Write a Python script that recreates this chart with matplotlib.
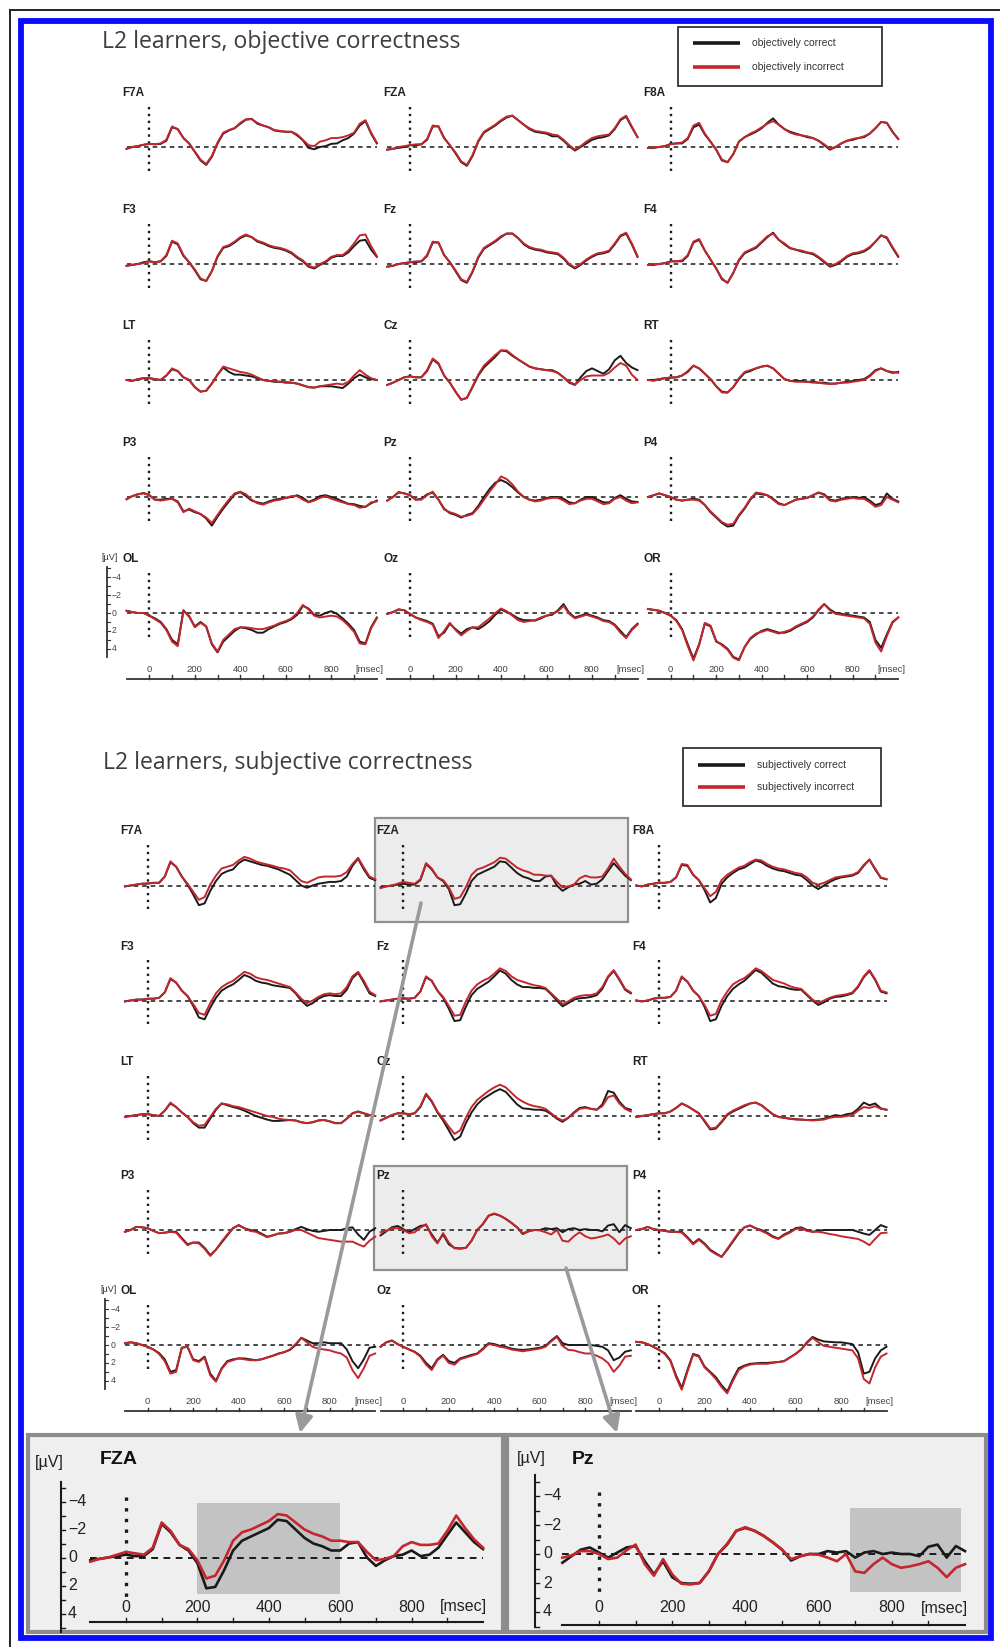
# ERP grid: L2 learners, objective vs subjective correctness (two 5x3 montages + two close-ups)

import numpy as np
import matplotlib.pyplot as plt
from matplotlib.patches import Rectangle, FancyArrowPatch

# time base in ms, one sample every 25 ms (45 samples per waveform)
t_ms = np.arange(-100, 1001, 25)

channels = [["F7A", "FZA", "F8A"],
            ["F3", "Fz", "F4"],
            ["LT", "Cz", "RT"],
            ["P3", "Pz", "P4"],
            ["OL", "Oz", "OR"]]

titles = ["L2 learners, objective correctness", "L2 learners, subjective correctness"]
legend_obj = ["objectively correct", "objectively incorrect"]
legend_subj = ["subjectively correct", "subjectively incorrect"]
time_ticks = [0, 200, 400, 600, 800]
uv_ticks = [-4, -2, 0, 2, 4]

# ---- objective correctness (µV, negative up) ----
obj_F7A_c = [0.2, 0.0, -0.1, -0.25, -0.35, -0.3, -0.35, -0.7, -2.2,
             -2.0, -1.0, -0.4, 0.55, 1.5, 2.0, 1.1, -0.4, -1.5,
             -1.85, -2.1, -2.6, -3.05, -3.15, -2.6, -2.4, -2.2, -1.85,
             -1.75, -1.7, -1.7, -1.3, -0.75, 0.1, 0.25, 0.0, -0.1,
             -0.35, -0.4, -0.75, -1.0, -1.5, -2.4, -2.9, -1.5, -0.4]
obj_F7A_i = [0.2, 0.0, -0.1, -0.25, -0.35, -0.3, -0.4, -0.8, -2.3,
             -2.0, -1.0, -0.4, 0.5, 1.4, 1.9, 1.0, -0.5, -1.6,
             -1.9, -2.1, -2.7, -3.1, -3.1, -2.7, -2.4, -2.2, -1.9,
             -1.8, -1.7, -1.7, -1.4, -0.8, -0.2, -0.1, -0.6, -0.75,
             -1.0, -1.0, -1.1, -1.3, -1.6, -2.6, -3.0, -1.6, -0.5]
obj_FZA_c = [0.3, 0.2, 0.1, 0.0, -0.2, -0.2, -0.3, -0.8, -2.3,
             -2.3, -1.0, -0.2, 0.7, 1.7, 2.1, 1.0, -0.6, -1.6,
             -2.0, -2.4, -2.9, -3.3, -3.5, -3.0, -2.5, -2.0, -1.7,
             -1.6, -1.5, -1.2, -1.2, -0.7, -0.1, 0.4, 0.0, -0.4,
             -0.8, -1.0, -1.1, -1.3, -2.0, -3.0, -3.4, -2.2, -1.1]
obj_FZA_i = [0.3, 0.2, 0.0, -0.1, -0.2, -0.3, -0.3, -0.9, -2.4,
             -2.3, -1.0, -0.2, 0.6, 1.6, 2.0, 0.9, -0.7, -1.7,
             -2.1, -2.5, -3.0, -3.4, -3.5, -3.0, -2.5, -2.1, -1.8,
             -1.7, -1.6, -1.4, -1.3, -0.8, -0.2, 0.3, -0.1, -0.6,
             -1.0, -1.2, -1.3, -1.4, -2.1, -3.1, -3.5, -2.3, -1.1]
obj_F8A_c = [0.1, 0.1, 0.0, -0.1, -0.35, -0.4, -0.4, -0.9, -2.2,
             -2.5, -1.4, -0.6, 0.3, 1.5, 1.7, 0.8, -0.6, -1.1,
             -1.4, -1.7, -2.1, -2.7, -3.2, -2.5, -2.0, -1.7, -1.5,
             -1.3, -1.1, -1.0, -0.7, -0.2, 0.3, 0.0, -0.4, -0.7,
             -0.8, -1.0, -1.1, -1.5, -2.1, -2.8, -2.7, -1.7, -0.9]
obj_F8A_i = [0.1, 0.0, 0.0, -0.1, -0.3, -0.4, -0.5, -1.0, -2.4,
             -2.7, -1.5, -0.6, 0.3, 1.4, 1.7, 0.8, -0.6, -1.1,
             -1.5, -1.8, -2.2, -2.6, -2.9, -2.5, -2.0, -1.6, -1.4,
             -1.3, -1.2, -1.0, -0.7, -0.3, 0.2, 0.0, -0.4, -0.7,
             -0.9, -1.0, -1.2, -1.5, -2.1, -2.8, -2.7, -1.7, -0.9]
obj_F3_c = [0.2, 0.1, 0.0, -0.2, -0.3, -0.2, -0.3, -0.9, -2.5,
            -2.2, -0.9, -0.2, 0.7, 1.7, 1.9, 0.8, -0.8, -1.8,
            -2.0, -2.4, -2.9, -3.2, -3.0, -2.5, -2.3, -2.0, -1.8,
            -1.7, -1.5, -1.2, -0.7, -0.3, 0.3, 0.5, 0.1, -0.2,
            -0.7, -0.9, -0.9, -1.3, -2.0, -2.6, -2.7, -1.6, -0.8]
obj_F3_i = [0.2, 0.1, 0.0, -0.1, -0.3, -0.2, -0.3, -1.0, -2.6,
            -2.3, -1.0, -0.2, 0.6, 1.6, 1.9, 0.8, -0.9, -1.9,
            -2.1, -2.5, -3.0, -3.3, -3.0, -2.6, -2.4, -2.1, -1.9,
            -1.8, -1.6, -1.3, -0.8, -0.4, 0.2, 0.4, 0.0, -0.3,
            -0.8, -1.0, -1.0, -1.5, -2.3, -3.2, -3.3, -2.0, -0.9]
obj_Fz_c = [0.3, 0.2, 0.0, -0.1, -0.2, -0.2, -0.3, -0.9, -2.4,
            -2.4, -1.0, -0.2, 0.8, 1.8, 2.1, 0.9, -0.7, -1.7,
            -2.1, -2.5, -3.0, -3.4, -3.4, -2.9, -2.2, -1.8, -1.6,
            -1.5, -1.3, -1.2, -1.1, -0.6, 0.1, 0.5, 0.1, -0.4,
            -0.8, -1.1, -1.2, -1.4, -2.2, -3.1, -3.4, -2.2, -0.8]
obj_Fz_i = [0.3, 0.2, 0.0, -0.1, -0.2, -0.3, -0.3, -1.0, -2.5,
            -2.4, -1.0, -0.2, 0.7, 1.7, 2.0, 0.8, -0.8, -1.8,
            -2.2, -2.6, -3.1, -3.4, -3.4, -2.9, -2.3, -1.9, -1.7,
            -1.6, -1.4, -1.3, -1.2, -0.7, 0.0, 0.4, 0.0, -0.5,
            -0.9, -1.2, -1.3, -1.5, -2.3, -3.2, -3.5, -2.3, -0.9]
obj_F4_c = [0.1, 0.1, 0.0, -0.1, -0.3, -0.3, -0.3, -0.9, -2.4,
            -2.7, -1.5, -0.5, 0.5, 1.7, 2.1, 1.0, -0.4, -1.2,
            -1.5, -1.8, -2.4, -3.0, -3.5, -2.7, -2.2, -1.75, -1.6,
            -1.4, -1.25, -1.1, -0.7, -0.2, 0.3, 0.1, -0.3, -0.8,
            -1.1, -1.2, -1.4, -1.8, -2.5, -3.2, -2.9, -1.8, -0.8]
obj_F4_i = [0.1, 0.0, 0.0, -0.1, -0.3, -0.3, -0.4, -1.0, -2.5,
            -2.8, -1.5, -0.5, 0.5, 1.6, 2.1, 1.0, -0.5, -1.3,
            -1.6, -1.9, -2.5, -3.1, -3.4, -2.7, -2.3, -1.8, -1.6,
            -1.5, -1.3, -1.2, -0.8, -0.3, 0.2, 0.0, -0.4, -0.9,
            -1.2, -1.3, -1.5, -1.9, -2.5, -3.2, -3.0, -1.9, -0.9]
obj_LT_c = [0.0, 0.1, -0.1, -0.2, -0.2, -0.1, 0.0, -0.5, -1.2,
            -1.0, -0.3, 0.0, 0.8, 1.3, 1.2, 0.4, -0.6, -1.4,
            -0.9, -0.6, -0.6, -0.5, -0.4, -0.2, 0.0, 0.1, 0.2,
            0.2, 0.3, 0.3, 0.4, 0.6, 0.8, 0.85, 0.7, 0.7,
            0.7, 0.8, 0.9, 0.4, -0.2, -0.6, -0.3, -0.1, 0.0]
obj_LT_i = [0.0, 0.1, -0.1, -0.2, -0.2, -0.1, 0.0, -0.5, -1.3,
            -1.0, -0.3, 0.0, 0.8, 1.3, 1.2, 0.4, -0.6, -1.5,
            -1.3, -1.1, -0.9, -0.8, -0.6, -0.3, 0.0, 0.1, 0.1,
            0.2, 0.2, 0.3, 0.4, 0.6, 0.8, 0.85, 0.7, 0.6,
            0.5, 0.4, 0.5, 0.2, -0.5, -1.1, -0.6, -0.2, 0.0]
obj_Cz_c = [0.55, 0.3, 0.0, -0.3, -0.4, -0.3, -0.3, -1.0, -2.3,
            -1.8, -0.5, 0.3, 1.3, 2.2, 2.0, 0.8, -0.5, -1.4,
            -2.0, -2.6, -3.3, -3.2, -2.7, -2.3, -1.9, -1.5, -1.3,
            -1.2, -1.1, -1.1, -0.8, -0.3, 0.3, 0.55, -0.3, -1.0,
            -1.3, -1.0, -0.7, -1.2, -2.2, -2.7, -1.9, -1.4, -1.1]
obj_Cz_i = [0.55, 0.3, 0.0, -0.3, -0.4, -0.3, -0.3, -1.1, -2.4,
            -1.9, -0.5, 0.3, 1.3, 2.2, 2.0, 0.7, -0.6, -1.6,
            -2.2, -2.8, -3.3, -3.3, -2.8, -2.3, -1.9, -1.5, -1.3,
            -1.2, -1.1, -1.0, -0.8, -0.3, 0.2, 0.5, 0.0, -0.4,
            -0.5, -0.5, -0.5, -0.8, -1.4, -1.9, -1.6, -0.6, 0.0]
obj_RT_c = [0.0, 0.0, -0.1, -0.2, -0.25, -0.3, -0.5, -0.9, -1.6,
            -1.3, -0.7, -0.1, 0.7, 1.3, 1.4, 0.8, -0.1, -0.8,
            -1.0, -1.3, -1.5, -1.6, -1.3, -0.7, -0.1, 0.1, 0.1,
            0.1, 0.2, 0.2, 0.3, 0.3, 0.4, 0.4, 0.3, 0.2,
            0.1, 0.0, -0.1, -0.5, -1.1, -1.3, -1.0, -0.8, -0.9]
obj_RT_i = [0.0, 0.1, -0.1, -0.2, -0.3, -0.3, -0.5, -1.0, -1.6,
            -1.3, -0.7, -0.1, 0.7, 1.4, 1.4, 0.8, -0.2, -0.9,
            -1.1, -1.3, -1.5, -1.6, -1.3, -0.7, -0.1, 0.1, 0.2,
            0.2, 0.2, 0.3, 0.3, 0.4, 0.45, 0.4, 0.3, 0.3,
            0.2, 0.1, 0.0, -0.4, -1.0, -1.3, -1.0, -0.9, -0.8]
obj_P3_c = [0.25, -0.1, -0.3, -0.45, -0.2, 0.3, 0.3, 0.2, 0.2,
            0.5, 1.6, 1.4, 1.7, 1.9, 2.4, 3.2, 2.2, 1.3,
            0.5, -0.3, -0.55, -0.1, 0.4, 0.6, 0.75, 0.5, 0.3,
            0.2, 0.1, 0.0, -0.2, 0.1, 0.55, 0.3, -0.1, -0.2,
            0.0, 0.2, 0.5, 0.75, 0.8, 1.0, 1.1, 0.7, 0.4]
obj_P3_i = [0.25, -0.1, -0.3, -0.4, -0.2, 0.3, 0.4, 0.3, 0.2,
            0.6, 1.7, 1.3, 1.6, 1.9, 2.3, 2.9, 2.0, 1.1,
            0.3, -0.4, -0.6, -0.3, 0.3, 0.7, 0.85, 0.6, 0.4,
            0.3, 0.1, -0.1, -0.1, 0.3, 0.6, 0.4, 0.1, -0.1,
            0.2, 0.4, 0.6, 0.8, 0.9, 1.2, 1.1, 0.6, 0.5]
obj_Pz_c = [0.4, 0.0, -0.55, -0.4, -0.2, 0.3, 0.2, -0.3, -0.5,
            0.3, 1.3, 1.8, 2.0, 2.3, 2.0, 1.8, 1.0, 0.0,
            -0.9, -1.6, -1.9, -1.6, -1.1, -0.5, 0.0, 0.3, 0.4,
            0.3, 0.1, 0.0, 0.0, 0.2, 0.6, 0.7, 0.3, 0.0,
            0.0, 0.3, 0.6, 0.6, 0.1, -0.2, 0.2, 0.5, 0.55]
obj_Pz_i = [0.4, 0.0, -0.5, -0.4, -0.2, 0.3, 0.3, -0.2, -0.6,
            0.3, 1.4, 1.7, 1.9, 2.2, 2.1, 1.9, 1.2, 0.3,
            -0.6, -1.4, -2.3, -2.0, -1.4, -0.6, 0.0, 0.3, 0.5,
            0.4, 0.2, 0.1, 0.1, 0.4, 0.8, 0.7, 0.4, 0.2,
            0.2, 0.5, 0.8, 0.7, 0.2, 0.0, 0.4, 0.7, 0.6]
obj_P4_c = [0.0, -0.2, -0.4, -0.2, 0.0, 0.3, 0.4, 0.3, 0.2,
            0.3, 0.9, 1.7, 2.3, 2.9, 3.3, 3.2, 2.1, 1.3,
            0.3, -0.4, -0.3, -0.2, 0.2, 0.7, 0.9, 0.6, 0.3,
            0.2, 0.1, -0.2, -0.5, -0.3, 0.3, 0.4, 0.2, 0.1,
            0.0, 0.1, 0.0, 0.4, 0.9, 0.7, -0.4, 0.2, 0.5]
obj_P4_i = [0.0, -0.2, -0.4, -0.2, 0.0, 0.3, 0.4, 0.3, 0.3,
            0.4, 0.9, 1.6, 2.2, 2.8, 3.1, 3.0, 2.0, 1.2,
            0.2, -0.5, -0.4, -0.2, 0.3, 0.8, 0.9, 0.6, 0.3,
            0.2, 0.1, -0.2, -0.5, -0.2, 0.4, 0.5, 0.3, 0.2,
            0.1, 0.2, 0.2, 0.6, 1.1, 0.9, 0.0, 0.3, 0.6]
obj_OL_c = [-0.25, -0.1, 0.0, 0.0, 0.3, 0.6, 1.0, 1.8, 3.0,
            3.5, -0.3, 0.4, 1.5, 1.0, 1.5, 3.5, 4.4, 3.2,
            2.6, 2.0, 1.6, 1.7, 1.9, 2.2, 2.2, 1.8, 1.5,
            1.2, 1.0, 0.7, 0.2, -0.8, -0.5, 0.2, 0.3, 0.0,
            -0.2, 0.1, 0.6, 1.2, 1.9, 3.2, 3.4, 1.6, 0.5]
obj_OL_i = [-0.25, -0.1, 0.0, 0.0, 0.3, 0.7, 1.1, 1.9, 3.2,
            3.7, -0.2, 0.3, 1.6, 1.1, 1.5, 3.4, 4.3, 3.0,
            2.4, 1.8, 1.6, 1.6, 1.7, 1.8, 1.8, 1.6, 1.4,
            1.1, 0.9, 0.6, 0.0, -0.9, -0.4, 0.3, 0.5, 0.4,
            0.3, 0.4, 0.8, 1.4, 2.1, 3.4, 3.5, 1.7, 0.6]
obj_Oz_c = [0.1, -0.1, -0.4, -0.3, 0.1, 0.5, 0.7, 0.9, 1.2,
            2.6, 2.2, 1.2, 1.8, 2.3, 1.8, 1.6, 1.8, 1.4,
            0.9, 0.2, -0.4, -0.1, 0.2, 0.6, 0.8, 0.8, 0.85,
            0.6, 0.3, 0.2, -0.3, -1.0, 0.0, 0.5, 0.3, 0.1,
            0.3, 0.5, 0.8, 0.9, 1.3, 2.0, 2.7, 1.8, 1.2]
obj_Oz_i = [0.1, -0.1, -0.4, -0.3, 0.1, 0.5, 0.8, 1.0, 1.3,
            2.8, 2.0, 1.1, 1.9, 2.5, 2.0, 1.6, 1.6, 1.1,
            0.6, 0.0, -0.5, -0.2, 0.3, 0.8, 1.0, 0.9, 0.8,
            0.5, 0.3, 0.1, -0.2, -0.8, 0.1, 0.6, 0.4, 0.2,
            0.4, 0.6, 0.9, 1.0, 1.4, 2.2, 2.8, 1.9, 1.3]
obj_OR_c = [-0.45, -0.35, -0.25, 0.0, 0.3, 0.8, 1.8, 3.5, 5.1,
            3.5, 1.2, 1.5, 3.2, 3.5, 4.0, 4.9, 5.2, 3.8,
            2.9, 2.4, 2.0, 1.8, 2.0, 2.2, 2.2, 2.0, 1.6,
            1.3, 1.0, 0.5, -0.3, -1.0, -0.4, 0.0, 0.1, 0.2,
            0.3, 0.4, 0.5, 1.0, 3.0, 3.9, 2.4, 1.0, 0.5]
obj_OR_i = [-0.45, -0.35, -0.25, 0.0, 0.3, 0.9, 1.9, 3.7, 5.3,
            3.6, 1.1, 1.4, 3.1, 3.6, 4.1, 5.0, 5.3, 3.8,
            2.8, 2.3, 2.1, 1.9, 2.1, 2.3, 2.1, 1.9, 1.5,
            1.2, 0.9, 0.4, -0.4, -1.0, -0.3, 0.1, 0.2, 0.3,
            0.4, 0.5, 0.6, 1.2, 3.3, 4.3, 2.6, 1.1, 0.5]

# ---- subjective correctness ----
subj_F7A_c = [0.1, 0.0, -0.1, -0.2, -0.2, -0.3, -0.3, -1.0, -2.6,
              -2.1, -1.0, -0.1, 1.0, 2.2, 2.0, 0.6, -0.5, -1.3,
              -1.6, -1.8, -2.5, -2.9, -2.7, -2.5, -2.3, -2.2, -2.0,
              -1.8, -1.5, -1.2, -0.6, 0.0, 0.25, 0.0, -0.2, -0.3,
              -0.4, -0.4, -0.5, -1.0, -2.2, -3.0, -1.8, -0.85, -0.6]
subj_F7A_i = [0.1, 0.0, -0.1, -0.2, -0.25, -0.3, -0.3, -1.0, -2.7,
              -2.1, -1.0, -0.2, 0.7, 1.6, 1.3, -0.1, -1.1, -1.9,
              -2.1, -2.3, -2.8, -3.2, -3.0, -2.7, -2.5, -2.35, -2.2,
              -2.0, -1.9, -1.7, -1.1, -0.5, -0.3, -0.6, -0.9, -1.0,
              -1.0, -1.0, -1.1, -1.5, -2.4, -3.1, -2.0, -1.0, -0.7]
subj_FZA_c = [0.2, 0.1, 0.0, -0.1, -0.2, -0.1, -0.1, -0.6, -2.4,
              -1.8, -0.9, -0.5, 0.4, 2.2, 2.1, 0.9, -0.5, -1.2,
              -1.5, -1.8, -2.1, -2.7, -2.6, -2.0, -1.4, -1.0, -0.8,
              -0.5, -0.5, -1.0, -1.1, 0.0, 0.6, 0.2, -0.1, -0.2,
              -0.5, -0.1, -0.2, -0.7, -1.6, -2.5, -1.8, -1.1, -0.6]
subj_FZA_i = [0.3, 0.1, 0.0, -0.2, -0.4, -0.3, -0.2, -0.7, -2.5,
              -1.9, -0.9, -0.6, 0.2, 1.5, 1.3, 0.2, -1.2, -1.8,
              -2.0, -2.3, -2.6, -3.1, -3.0, -2.5, -2.0, -1.7, -1.5,
              -1.2, -1.2, -1.1, -1.1, -0.4, 0.2, 0.1, -0.1, -0.8,
              -1.1, -0.9, -0.9, -1.0, -1.9, -3.0, -2.1, -1.3, -0.7]
subj_F8A_c = [0.0, 0.1, -0.1, -0.2, -0.3, -0.3, -0.4, -0.9, -2.3,
              -2.2, -1.2, -0.6, 0.5, 1.9, 1.4, -0.2, -0.9, -1.4,
              -1.8, -2.0, -2.4, -2.8, -2.6, -2.2, -1.9, -1.7, -1.6,
              -1.4, -1.2, -1.1, -0.6, 0.0, 0.4, 0.0, -0.4, -0.7,
              -0.9, -1.0, -1.1, -1.4, -2.2, -2.9, -1.8, -0.85, -0.7]
subj_F8A_i = [0.0, 0.1, -0.1, -0.2, -0.3, -0.3, -0.4, -0.9, -2.4,
              -2.3, -1.2, -0.6, 0.3, 1.2, 0.7, -0.6, -1.2, -1.6,
              -2.0, -2.2, -2.6, -2.9, -2.8, -2.4, -2.1, -1.9, -1.8,
              -1.6, -1.4, -1.3, -0.9, -0.3, -0.1, -0.3, -0.6, -0.9,
              -1.0, -1.1, -1.2, -1.5, -2.3, -2.9, -1.9, -0.9, -0.7]
subj_F3_c = [0.1, 0.0, -0.1, -0.1, -0.2, -0.2, -0.3, -0.9, -2.4,
             -2.0, -1.1, -0.5, 0.6, 1.9, 2.1, 0.8, -0.3, -1.1,
             -1.5, -1.8, -2.3, -2.85, -2.6, -2.2, -2.0, -1.9, -1.7,
             -1.6, -1.5, -1.4, -0.8, 0.0, 0.6, 0.3, -0.2, -0.5,
             -0.6, -0.5, -0.5, -1.2, -2.5, -3.1, -2.0, -0.8, -0.5]
subj_F3_i = [0.1, 0.0, -0.1, -0.1, -0.2, -0.2, -0.3, -0.9, -2.5,
             -2.0, -1.1, -0.5, 0.4, 1.4, 1.6, 0.3, -0.8, -1.5,
             -1.9, -2.2, -2.7, -3.2, -3.0, -2.6, -2.4, -2.3, -2.1,
             -1.9, -1.7, -1.5, -0.9, -0.2, 0.3, 0.0, -0.4, -0.7,
             -0.8, -0.7, -0.8, -1.5, -2.7, -3.2, -2.2, -1.0, -0.6]
subj_Fz_c = [0.1, 0.0, -0.1, -0.2, -0.2, -0.2, -0.3, -1.0, -2.6,
             -2.2, -1.1, -0.3, 0.9, 2.3, 2.2, 0.7, -0.6, -1.3,
             -1.7, -2.1, -2.7, -3.35, -3.0, -2.3, -1.8, -1.5, -1.5,
             -1.4, -1.4, -1.3, -0.7, 0.0, 0.65, 0.3, -0.1, -0.25,
             -0.3, -0.4, -0.6, -1.3, -2.6, -3.3, -2.3, -1.2, -0.8]
subj_Fz_i = [0.1, 0.0, -0.1, -0.2, -0.3, -0.2, -0.3, -1.0, -2.7,
             -2.2, -1.1, -0.4, 0.6, 1.7, 1.6, 0.1, -1.1, -1.8,
             -2.2, -2.5, -3.0, -3.6, -3.3, -2.7, -2.3, -2.1, -1.9,
             -1.7, -1.6, -1.4, -0.8, -0.2, 0.4, 0.1, -0.3, -0.5,
             -0.6, -0.6, -0.8, -1.5, -2.7, -3.4, -2.4, -1.3, -0.9]
subj_F4_c = [0.0, 0.1, 0.0, -0.2, -0.3, -0.3, -0.4, -1.1, -2.6,
             -2.1, -1.1, -0.5, 0.7, 2.3, 2.1, 0.6, -0.5, -1.3,
             -1.8, -2.2, -2.8, -3.4, -3.1, -2.5, -1.9, -1.6, -1.5,
             -1.3, -1.2, -1.2, -0.6, 0.0, 0.5, 0.2, -0.2, -0.4,
             -0.45, -0.6, -0.8, -1.5, -2.6, -3.3, -2.3, -1.0, -0.8]
subj_F4_i = [0.0, 0.1, 0.0, -0.2, -0.3, -0.3, -0.4, -1.1, -2.7,
             -2.1, -1.1, -0.5, 0.5, 1.7, 1.5, 0.0, -1.0, -1.8,
             -2.2, -2.5, -3.0, -3.6, -3.3, -2.8, -2.3, -2.1, -1.9,
             -1.6, -1.4, -1.3, -0.7, -0.1, 0.3, 0.0, -0.3, -0.5,
             -0.6, -0.7, -0.9, -1.6, -2.7, -3.4, -2.4, -1.1, -0.9]
subj_LT_c = [0.1, 0.0, -0.1, -0.2, -0.2, -0.1, 0.0, -0.6, -1.4,
             -1.0, -0.4, 0.1, 0.8, 1.3, 1.3, 0.3, -0.7, -1.4,
             -1.2, -1.0, -0.85, -0.6, -0.3, 0.0, 0.2, 0.4, 0.55,
             0.55, 0.5, 0.45, 0.5, 0.7, 0.8, 0.7, 0.5, 0.45,
             0.6, 0.8, 0.8, 0.3, -0.3, -0.5, -0.3, -0.1, 0.0]
subj_LT_i = [0.1, 0.0, -0.1, -0.2, -0.2, -0.1, 0.0, -0.6, -1.5,
             -1.0, -0.4, 0.1, 0.7, 1.1, 1.0, 0.1, -0.8, -1.4,
             -1.3, -1.1, -1.0, -0.8, -0.6, -0.4, -0.2, 0.0, 0.1,
             0.3, 0.4, 0.45, 0.5, 0.7, 0.8, 0.7, 0.5, 0.45,
             0.6, 0.8, 0.8, 0.3, -0.3, -0.5, -0.3, -0.1, 0.0]
subj_Cz_c = [0.5, 0.2, -0.1, -0.3, -0.3, -0.2, -0.3, -1.0, -2.4,
             -1.6, -0.4, 0.5, 1.6, 2.7, 2.3, 0.8, -0.4, -1.3,
             -1.9, -2.3, -2.7, -3.0, -2.7, -2.0, -1.3, -0.85, -0.8,
             -0.7, -0.7, -0.6, -0.2, 0.3, 0.65, 0.2, -0.4, -0.9,
             -1.0, -0.8, -0.7, -1.3, -2.8, -2.6, -1.6, -0.9, -0.7]
subj_Cz_i = [0.5, 0.2, -0.1, -0.3, -0.3, -0.2, -0.3, -1.1, -2.5,
             -1.7, -0.5, 0.3, 1.2, 2.0, 1.6, 0.2, -1.0, -1.8,
             -2.3, -2.8, -3.2, -3.5, -3.2, -2.6, -2.0, -1.6, -1.3,
             -1.1, -1.0, -0.8, -0.3, 0.2, 0.5, 0.2, -0.3, -0.8,
             -0.9, -0.8, -0.7, -1.1, -2.1, -2.3, -1.4, -0.8, -0.5]
subj_RT_c = [0.1, 0.0, -0.1, -0.2, -0.3, -0.3, -0.5, -0.9, -1.4,
             -1.1, -0.7, -0.3, 0.6, 1.5, 1.4, 0.7, -0.1, -0.5,
             -0.8, -1.1, -1.4, -1.5, -1.2, -0.7, -0.2, 0.1, 0.2,
             0.3, 0.35, 0.4, 0.45, 0.45, 0.4, 0.3, 0.1, -0.1,
             0.0, -0.2, -0.3, -0.8, -1.5, -1.2, -1.4, -0.85, -0.7]
subj_RT_i = [0.1, 0.0, -0.1, -0.2, -0.3, -0.3, -0.5, -0.9, -1.4,
             -1.1, -0.7, -0.3, 0.5, 1.4, 1.3, 0.6, -0.2, -0.6,
             -0.9, -1.2, -1.4, -1.5, -1.2, -0.7, -0.2, 0.1, 0.2,
             0.3, 0.4, 0.4, 0.45, 0.5, 0.45, 0.4, 0.2, 0.1,
             0.1, 0.0, -0.1, -0.6, -1.0, -0.9, -1.1, -0.8, -0.7]
subj_P3_c = [0.2, 0.0, -0.35, -0.3, -0.2, 0.1, 0.35, 0.3, 0.2,
             0.2, 0.9, 1.6, 1.4, 1.4, 2.0, 2.8, 2.2, 1.4,
             0.6, -0.2, -0.55, -0.2, 0.0, 0.1, 0.4, 0.75, 0.6,
             0.4, 0.35, 0.2, -0.1, -0.35, -0.1, 0.1, 0.2, 0.1,
             0.0, 0.0, 0.0, -0.2, -0.3, 0.5, 1.1, 0.2, -0.2]
subj_P3_i = [0.2, 0.0, -0.35, -0.3, -0.2, 0.1, 0.35, 0.3, 0.2,
             0.3, 1.0, 1.7, 1.4, 1.5, 2.1, 2.9, 2.2, 1.3,
             0.5, -0.2, -0.5, -0.2, 0.1, 0.2, 0.5, 0.8, 0.6,
             0.4, 0.35, 0.2, 0.0, 0.0, 0.3, 0.6, 0.9, 1.0,
             1.1, 1.2, 1.3, 1.3, 1.3, 1.6, 1.85, 1.2, 0.75]
subj_Pz_c = [0.6, 0.15, -0.3, -0.45, -0.1, 0.25, -0.1, -0.45, -0.55,
             0.5, 1.4, 0.5, 1.6, 2.0, 2.05, 2.0, 1.2, 0.0,
             -0.65, -1.6, -1.8, -1.6, -1.25, -0.8, -0.3, 0.45, 0.15,
             0.0, 0.0, -0.2, -0.1, -0.2, 0.25, -0.1, -0.2, 0.0,
             -0.1, 0.0, 0.0, 0.15, -0.5, -0.65, 0.25, -0.55, -0.2]
subj_Pz_i = [0.25, 0.1, -0.2, -0.2, 0.0, 0.35, 0.25, -0.25, -0.65,
             0.7, 1.5, 0.35, 1.4, 2.05, 2.1, 2.0, 1.2, 0.0,
             -0.7, -1.6, -1.85, -1.6, -1.25, -0.8, -0.3, 0.35, 0.15,
             0.0, 0.05, 0.25, 0.5, 0.0, 1.2, 1.3, 0.7, 0.25,
             0.7, 0.95, 0.85, 0.7, 0.5, 0.95, 1.6, 0.95, 0.7]
subj_P4_c = [0.0, -0.1, -0.35, -0.1, 0.0, 0.1, 0.2, 0.2, 0.2,
             0.8, 1.5, 1.0, 1.5, 2.2, 2.6, 3.0, 2.2, 1.3,
             0.4, -0.3, -0.5, -0.2, 0.0, 0.3, 0.7, 0.95, 0.5,
             0.2, -0.2, -0.3, 0.0, 0.2, 0.1, 0.0, 0.0, 0.0,
             0.0, 0.0, 0.0, 0.2, 0.4, 0.55, 0.0, -0.55, -0.3]
subj_P4_i = [0.0, -0.1, -0.35, -0.1, 0.0, 0.1, 0.2, 0.2, 0.3,
             0.9, 1.6, 1.1, 1.6, 2.3, 2.7, 3.0, 2.1, 1.2,
             0.3, -0.3, -0.5, -0.2, 0.1, 0.4, 0.8, 1.0, 0.6,
             0.3, -0.1, -0.2, 0.1, 0.2, 0.2, 0.3, 0.45, 0.55,
             0.7, 0.8, 0.9, 1.0, 1.3, 1.7, 1.0, 0.35, 0.3]
subj_OL_c = [-0.2, -0.3, -0.2, 0.0, 0.2, 0.5, 0.9, 1.6, 3.0,
             2.8, 0.3, 0.2, 1.6, 1.8, 1.3, 3.2, 4.0, 2.6,
             1.8, 1.6, 1.5, 1.5, 1.6, 1.7, 1.6, 1.4, 1.2,
             0.95, 0.8, 0.55, 0.0, -0.8, -0.5, -0.2, -0.2, -0.3,
             -0.2, -0.2, -0.2, 0.5, 1.8, 2.6, 1.6, 0.3, 0.2]
subj_OL_i = [-0.2, -0.3, -0.2, 0.0, 0.2, 0.5, 1.0, 1.8, 3.2,
             3.0, 0.3, 0.2, 1.7, 1.9, 1.4, 3.4, 4.1, 2.7,
             1.9, 1.7, 1.5, 1.6, 1.7, 1.7, 1.6, 1.4, 1.2,
             1.0, 0.8, 0.5, -0.1, -0.8, -0.3, 0.2, 0.4, 0.5,
             0.6, 0.8, 0.95, 1.4, 2.8, 3.7, 2.6, 1.2, 0.95]
subj_Oz_c = [0.2, -0.3, -0.5, -0.1, 0.2, 0.5, 0.75, 1.2, 2.0,
             2.6, 1.6, 1.1, 1.8, 2.0, 1.5, 1.3, 1.1, 0.95,
             0.4, -0.2, -0.1, 0.1, 0.2, 0.4, 0.5, 0.55, 0.5,
             0.4, 0.3, 0.1, -0.5, -1.0, -0.2, 0.0, 0.0, 0.0,
             0.0, 0.0, 0.1, 0.2, 0.6, 1.7, 1.4, 0.75, 0.6]
subj_Oz_i = [0.2, -0.3, -0.5, -0.1, 0.2, 0.5, 0.8, 1.3, 2.2,
             2.8, 1.7, 1.2, 2.0, 2.2, 1.6, 1.4, 1.2, 1.0,
             0.5, -0.1, 0.0, 0.2, 0.3, 0.5, 0.6, 0.7, 0.6,
             0.5, 0.4, 0.2, -0.4, -0.9, 0.1, 0.55, 0.6, 0.8,
             0.95, 0.95, 1.2, 1.5, 2.0, 3.0, 2.3, 1.3, 1.2]
subj_OR_c = [-0.35, -0.3, -0.1, 0.2, 0.55, 0.9, 1.7, 3.4, 4.8,
             2.8, 1.0, 1.2, 2.4, 3.0, 3.6, 4.5, 5.2, 3.8,
             2.6, 2.3, 2.1, 2.05, 2.0, 2.0, 1.95, 1.9, 1.8,
             1.4, 1.0, 0.5, -0.3, -0.9, -0.6, -0.4, -0.35, -0.3,
             -0.3, -0.2, -0.1, 0.8, 3.2, 3.0, 1.5, 0.6, 0.2]
subj_OR_i = [-0.35, -0.3, -0.1, 0.2, 0.55, 1.0, 1.8, 3.6, 5.0,
             3.0, 1.1, 1.3, 2.5, 3.1, 3.8, 4.7, 5.4, 4.0,
             2.8, 2.4, 2.2, 2.1, 2.1, 2.1, 2.0, 1.9, 1.8,
             1.4, 1.0, 0.5, -0.2, -0.8, -0.3, 0.1, 0.2, 0.3,
             0.4, 0.5, 0.6, 1.5, 3.8, 4.3, 2.5, 1.3, 0.95]

# ---------------------------------------------------------------- layout (pixels)
W, H = 1000, 1647
RED = "#c4262e"
INK = "#1a1a1a"
NARROW = ["Liberation Sans Narrow", "Liberation Sans", "DejaVu Sans"]
ARIAL = ["Liberation Sans", "DejaVu Sans"]
T_LO, T_HI = -110, 1010
S_MS, S_UV = 0.2275, 8.95          # small panels: px per ms, px per µV

sections = [
    dict(prefix="obj", cols=[149.3, 410.0, 670.7], rows=[147, 264, 380, 497, 613],
         title_xy=(102, 48), legend=legend_obj, legend_box=(678, 27, 204, 59), legend_y=(43, 67)),
    dict(prefix="subj", cols=[147.7, 403.3, 659.0], rows=[885.5, 1000.5, 1116, 1230, 1345],
         title_xy=(103, 769), legend=legend_subj, legend_box=(683, 748, 198, 58), legend_y=(765, 787)),
]

fig = plt.figure(figsize=(W / 100, H / 100), dpi=100)
fig.patch.set_facecolor("white")


def px_axes(left, top, width, height, z=1):
    ax = fig.add_axes([left / W, 1 - (top + height) / H, width / W, height / H], zorder=z)
    ax.patch.set_alpha(0)
    ax.axis("off")
    return ax


# background canvas in pixel coordinates
bg = px_axes(0, 0, W, H, z=0)
bg.set_xlim(0, W)
bg.set_ylim(H, 0)

bg.plot([10, 10], [10, H], color="#222222", lw=1.4)
bg.plot([10, W], [10, 10], color="#222222", lw=1.4)
bg.add_patch(Rectangle((21, 21), 970, 1617, fill=False, edgecolor="#0b0bff", lw=4.2))

# highlighted panels in the subjective montage
for (x, y) in [(375, 818), (374, 1166)]:
    bg.add_patch(Rectangle((x, y), 253, 104, facecolor="#ececec", edgecolor="#8f8f8f", lw=1.6))

# close-up boxes
bg.add_patch(Rectangle((27.5, 1434.5), 475, 197.5, facecolor="#efefef", edgecolor="#8c8c8c", lw=3))
bg.add_patch(Rectangle((507, 1434.5), 478.5, 197.5, facecolor="#efefef", edgecolor="#8c8c8c", lw=3))

for sec, title in zip(sections, titles):
    bg.text(*sec["title_xy"], title, fontsize=16.6, family=["Open Sans", "DejaVu Sans"],
            color="#3d3d3d", va="baseline")
    lx, ly, lw_, lh = sec["legend_box"]
    bg.add_patch(Rectangle((lx, ly), lw_, lh, facecolor="white", edgecolor="#333333", lw=1.3))
    for yy, col, lab in zip(sec["legend_y"], [INK, RED], sec["legend"]):
        bg.plot([lx + 15, lx + 62], [yy, yy], color=col, lw=2.6, solid_capstyle="butt")
        bg.text(lx + 74, yy, lab, fontsize=7.5, family=NARROW, color="#333333", va="center")


def draw_waves(ax, c_vals, i_vals, lw):
    for vals, col in [(c_vals, INK), (i_vals, RED)]:
        if len(vals) != len(t_ms):
            raise ValueError("waveform length mismatch")
        ax.plot(t_ms, vals, color=col, lw=lw)


def small_panel(x0, y0, name, c_vals, i_vals):
    ax = px_axes(x0 + T_LO * S_MS, y0 - 6 * S_UV, (T_HI - T_LO) * S_MS, 12 * S_UV, z=1)
    ax.set_xlim(T_LO, T_HI)
    ax.set_ylim(6, -6)
    ax.plot([-100, 1000], [0, 0], color=INK, lw=1.1, ls=(0, (3, 2.6)))
    ax.plot([0, 0], [-4.5, 2.8], color=INK, lw=1.7, ls=(0, (1.0, 1.9)))
    draw_waves(ax, c_vals, i_vals, 1.4)
    ax.text(-27 / S_MS, -54 / S_UV, name, fontsize=8.5, fontweight="bold", family=NARROW,
            color="#222222", ha="left", va="center")
    return ax


def time_axis(ax):
    y = 66 / S_UV
    ax.plot([-100, 1000], [y, y], color="#333333", lw=1.3, clip_on=False)
    for tk in range(0, 1000, 100):
        ax.plot([tk, tk], [y, y - 3.5 / S_UV], color="#333333", lw=1.0, clip_on=False)
    for tk in time_ticks:
        ax.text(tk, y - 9 / S_UV, str(tk), fontsize=6.8, family=NARROW, color="#444444",
                ha="center", va="center")
    ax.text(968, y - 9 / S_UV, "[msec]", fontsize=6.8, family=NARROW, color="#444444",
            ha="center", va="center")


def uv_axis(ax):
    tx = (107 - 149.3) / S_MS
    ax.plot([tx, tx], [-5.1, 4.9], color="#333333", lw=1.3, clip_on=False)
    for v in range(-5, 5):
        ax.plot([tx, tx + 3 / S_MS], [v, v], color="#333333", lw=0.8, clip_on=False)
    for v in uv_ticks:
        ax.text(tx + 5 / S_MS, v, str(v).replace("-", "\u2212"), fontsize=6.3, family=NARROW,
                color="#444444", ha="left", va="center")
    ax.text((118 - 149.3) / S_MS, -6.2, "[\u00b5V]", fontsize=6.5, family=NARROW,
            color="#333333", ha="right", va="center")


for sec in sections:
    for r, row in enumerate(channels):
        for c, name in enumerate(row):
            c_vals = globals()[f"{sec['prefix']}_{name}_c"]
            i_vals = globals()[f"{sec['prefix']}_{name}_i"]
            ax = small_panel(sec["cols"][c], sec["rows"][r], name, c_vals, i_vals)
            if r == len(channels) - 1:
                time_axis(ax)
                if c == 0:
                    uv_axis(ax)


def big_panel(x0, y0, s_ms, s_uv, c_vals, i_vals, shade, yaxis_x, ylab_x, xaxis_y, xlab_y, uv_span):
    ax = px_axes(x0 + T_LO * s_ms, y0 - 6 * s_uv, (T_HI - T_LO) * s_ms, 12 * s_uv, z=1)
    ax.set_xlim(T_LO, T_HI)
    ax.set_ylim(6, -6)
    t0, t1, u0, u1 = shade
    ax.add_patch(Rectangle((t0, u0), t1 - t0, u1 - u0, facecolor="#c3c3c3", edgecolor="none", zorder=0))
    ax.plot([-100, 1000], [0, 0], color=INK, lw=1.4, ls=(0, (3.5, 2.8)))
    ax.plot([0, 0], [-4.3, 2.8], color=INK, lw=2.4, ls=(0, (1.0, 2.2)))
    draw_waves(ax, c_vals, i_vals, 1.9)
    tx = (yaxis_x - x0) / s_ms
    ax.plot([tx, tx], list(uv_span), color=INK, lw=1.5, clip_on=False)
    for v in range(-5, 6):
        ax.plot([tx, tx + 4 / s_ms], [v, v], color=INK, lw=1.0, clip_on=False)
    for v in uv_ticks:
        ax.text((ylab_x - x0) / s_ms, v, str(v).replace("-", "\u2212"), fontsize=11.5,
                family=ARIAL, color="#222222", ha="left", va="center")
    ya = (xaxis_y - y0) / s_uv
    ax.plot([-100, 1000], [ya, ya], color=INK, lw=1.5, clip_on=False)
    for tk in range(0, 1000, 100):
        ax.plot([tk, tk], [ya, ya - 4 / s_uv], color=INK, lw=1.0, clip_on=False)
    yl = (xlab_y - y0) / s_uv
    for tk in time_ticks:
        ax.text(tk, yl, str(tk), fontsize=11.5, family=ARIAL, color="#222222",
                ha="center", va="center")
    ax.text(945, yl, "[msec]", fontsize=11.5, family=ARIAL, color="#222222",
            ha="center", va="center")
    return ax


big_panel(126, 1557.5, 0.357, 14, subj_FZA_c, subj_FZA_i, (200, 600, -3.9, 2.6),
          61, 68, 1622, 1607, (-5.4, 5.3))
big_panel(599, 1554, 0.366, 14.5, subj_Pz_c, subj_Pz_i, (686, 990, -3.2, 2.6),
          535, 543, 1625, 1608, (-5.45, 5.0))

bg.text(49, 1462, "[\u00b5V]", fontsize=11.5, family=ARIAL, color="#222222",
        ha="center", va="center", zorder=3)
bg.text(100, 1459, "FZA", fontsize=14, fontweight="bold", family=ARIAL, color="#111111",
        ha="left", va="center", zorder=3)
bg.text(531, 1458, "[\u00b5V]", fontsize=11.5, family=ARIAL, color="#222222",
        ha="center", va="center", zorder=3)
bg.text(572, 1460, "Pz", fontsize=14, fontweight="bold", family=ARIAL, color="#111111",
        ha="left", va="center", zorder=3)

# arrows from the highlighted panels to the close-ups
top = px_axes(0, 0, W, H, z=3)
top.set_xlim(0, W)
top.set_ylim(H, 0)
for (xa, ya), (xb, yb) in [((421, 903), (300, 1433)), ((566, 1268), (617, 1433))]:
    top.add_patch(FancyArrowPatch((xa, ya), (xb, yb), arrowstyle="-|>", mutation_scale=26,
                                  color="#9a9a9a", lw=2.6, shrinkA=0, shrinkB=0))

fig.savefig("out.png", dpi=100)
